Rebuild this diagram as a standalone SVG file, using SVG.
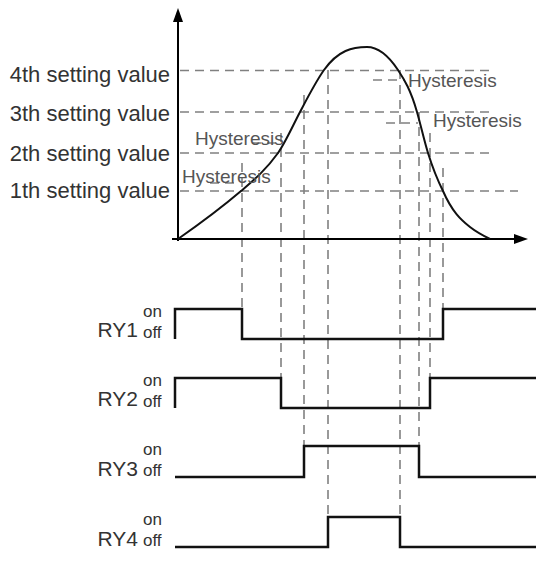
<svg xmlns="http://www.w3.org/2000/svg" width="536" height="562" viewBox="0 0 536 562">
<defs>
<style>
.lbl{font-family:"Liberation Sans",Arial,sans-serif;fill:#333;}
.set{font-size:22px;text-anchor:end;}
.hys{font-size:19px;fill:#555;}
.ry{font-size:21px;text-anchor:end;}
.oo{font-size:17px;}
.dash{stroke:#808080;stroke-width:1.6;stroke-dasharray:9 6;fill:none;}
.axis{stroke:#000;stroke-width:2;fill:none;}
.wave{stroke:#111;stroke-width:2.5;fill:none;}
.curve{stroke:#111;stroke-width:2;fill:none;}
</style>
</defs>
<rect width="536" height="562" fill="#fff"/>

<g id="connectors">
  <!-- horizontal setting lines -->
  <line class="dash" x1="180" y1="70.5" x2="495" y2="70.5"/>
  <line class="dash" x1="180" y1="112" x2="495" y2="112"/>
  <line class="dash" x1="180" y1="153" x2="495" y2="153"/>
  <line class="dash" x1="180" y1="191" x2="518" y2="191"/>
  <!-- hysteresis short lines -->
  <line class="dash" x1="210" y1="183" x2="240" y2="183"/>
  <line class="dash" x1="252" y1="143" x2="280" y2="143"/>
  <line class="dash" x1="373" y1="80" x2="405" y2="80"/>
  <line class="dash" x1="386" y1="123" x2="418" y2="123"/>
  <!-- vertical transition lines -->
  <line class="dash" x1="242" y1="163" x2="242" y2="309"/>
  <line class="dash" x1="281" y1="133" x2="281" y2="378"/>
  <line class="dash" x1="304" y1="95" x2="304" y2="446"/>
  <line class="dash" x1="328" y1="70" x2="328" y2="517"/>
  <line class="dash" x1="400" y1="70" x2="400" y2="517"/>
  <line class="dash" x1="419" y1="112" x2="419" y2="446"/>
  <line class="dash" x1="430" y1="133" x2="430" y2="378"/>
  <line class="dash" x1="443" y1="168" x2="443" y2="309"/>
</g>

<g id="axes">
  <line class="axis" x1="178" y1="241" x2="178" y2="20"/>
  <polygon points="178,8 173,22 183,22" fill="#000"/>
  <line class="axis" x1="172" y1="239" x2="516" y2="239"/>
  <polygon points="528,239 514,234 514,244" fill="#000"/>
</g>

<g id="curve">
  <path class="curve" d="M178,239 C199,224.3 220,208.9 241,191 C253.3,180.5 265.7,170.3 278,153 C285.3,142.7 292.7,125.9 300,112 C308,96.8 316,81.2 324,70 C338.3,50 352.7,47 367,47 C377.3,47 387.7,54.5 398,70 C404.3,79.5 410.7,89.8 417,112 C420.7,124.8 424.3,141.3 428,153 C433,169 438,181 443,191 C452,211.7 461,219.8 470,227 C476.7,232.3 483.3,235.7 490,239"/>
</g>

<g id="setting-labels">
  <text class="lbl set" x="170" y="82">4th setting value</text>
  <text class="lbl set" x="170" y="121">3th setting value</text>
  <text class="lbl set" x="170" y="161">2th setting value</text>
  <text class="lbl set" x="170" y="198">1th setting value</text>
</g>

<g id="hysteresis-labels">
  <text class="lbl hys" x="195" y="145">Hysteresis</text>
  <text class="lbl hys" x="182" y="183">Hysteresis</text>
  <text class="lbl hys" x="408" y="87">Hysteresis</text>
  <text class="lbl hys" x="433" y="127">Hysteresis</text>
</g>

<g id="RY1">
  <text class="lbl ry" x="138" y="337">RY1</text>
  <text class="lbl oo" x="143" y="317">on</text>
  <text class="lbl oo" x="143" y="338">off</text>
  <path class="wave" d="M175,339 V309 H242 V339 H443 V309 H536"/>
</g>
<g id="RY2">
  <text class="lbl ry" x="138" y="406">RY2</text>
  <text class="lbl oo" x="143" y="386">on</text>
  <text class="lbl oo" x="143" y="407">off</text>
  <path class="wave" d="M175,408 V378 H281 V408 H430 V378 H536"/>
</g>
<g id="RY3">
  <text class="lbl ry" x="138" y="476">RY3</text>
  <text class="lbl oo" x="143" y="455">on</text>
  <text class="lbl oo" x="143" y="476">off</text>
  <path class="wave" d="M175,477 H304 V446 H419 V477 H536"/>
</g>
<g id="RY4">
  <text class="lbl ry" x="138" y="546">RY4</text>
  <text class="lbl oo" x="143" y="525">on</text>
  <text class="lbl oo" x="143" y="546">off</text>
  <path class="wave" d="M175,547 H328 V517 H400 V547 H536"/>
</g>
</svg>
